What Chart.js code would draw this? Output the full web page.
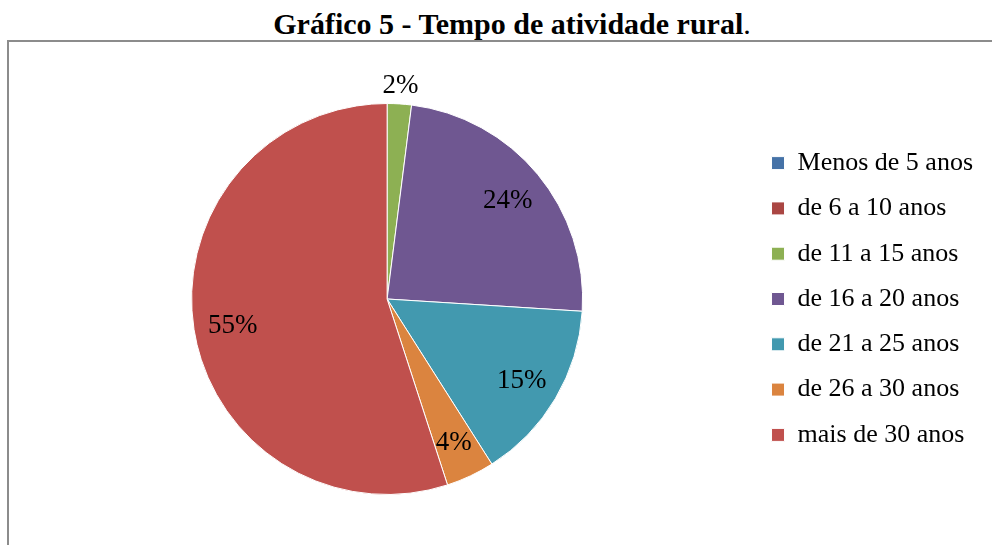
<!DOCTYPE html>
<html>
<head>
<meta charset="utf-8">
<script src="https://cdn.jsdelivr.net/npm/chart.js@4/dist/chart.umd.min.js"></script>
<style>
  html, body { margin: 0; padding: 0; background: #fff; }
  #wrap { position: relative; width: 992px; height: 545px; overflow: hidden; }
  #title {
    position: absolute; left: 0; top: 7px; width: 1024px; text-align: center;
    font-family: "Liberation Serif", serif; font-size: 30px; color: #000;
  }
  #title b { font-weight: bold; }
  #frame {
    position: absolute; left: 7px; top: 40px; width: 1100px; height: 600px;
    border: 2px solid #8c8c8c; box-sizing: border-box;
  }
  #chart { position: absolute; left: 0; top: 0; }
</style>
</head>
<body>
<div id="wrap">
  <div id="title"><b>Gráfico 5 - Tempo de atividade rural</b>.</div>
  <div id="frame"></div>
  <canvas id="chart" width="992" height="545"></canvas>
</div>
<script>
// categories and values (percent)
const categories = ['Menos de 5 anos', 'de 6 a 10 anos', 'de 11 a 15 anos', 'de 16 a 20 anos', 'de 21 a 25 anos', 'de 26 a 30 anos', 'mais de 30 anos'];
const percents = [0, 0, 2, 24, 15, 4, 55];
const sliceColors = ['#4572A7', '#AA4643', '#8DB053', '#6F5791', '#4299AF', '#DB843F', '#C0504D'];

const serif = "'Liberation Serif', serif";

// draws the % labels on the slices (outside for the very small ones)
const pctLabels = {
  id: 'pctLabels',
  afterDatasetsDraw(chart) {
    const ctx = chart.ctx;
    const meta = chart.getDatasetMeta(0);
    ctx.save();
    ctx.font = '27px ' + serif;
    ctx.fillStyle = '#000';
    ctx.textAlign = 'center';
    ctx.textBaseline = 'middle';
    meta.data.forEach((arc, i) => {
      const v = percents[i];
      if (!v) return;
      const p = arc.getProps(['x', 'y', 'startAngle', 'endAngle', 'outerRadius'], true);
      const mid = (p.startAngle + p.endAngle) / 2;
      const r = v < 3 ? p.outerRadius * 1.1 : p.outerRadius * 0.8;
      ctx.fillText(v + '%', p.x + Math.cos(mid) * r, p.y + Math.sin(mid) * r + 2);
    });
    ctx.restore();
  }
};

function draw() {
  new Chart(document.getElementById('chart'), {
    type: 'pie',
    data: {
      labels: categories,
      datasets: [{
        data: percents,
        backgroundColor: sliceColors,
        borderColor: '#ffffff',
        borderWidth: 1,
        hoverOffset: 0
      }]
    },
    options: {
      responsive: false,
      animation: false,
      layout: { padding: { left: 22, right: 9, top: 103, bottom: 50 } },
      plugins: {
        title: { display: false },
        tooltip: { enabled: false },
        legend: {
          position: 'right',
          align: 'center',
          labels: {
            boxWidth: 13,
            boxHeight: 13,
            padding: 19.3,
            color: '#000',
            font: { family: serif, size: 26 }
          }
        }
      }
    },
    plugins: [pctLabels]
  });
}

document.fonts.load("26px 'Liberation Serif'").then(draw, draw);
</script>
</body>
</html>
